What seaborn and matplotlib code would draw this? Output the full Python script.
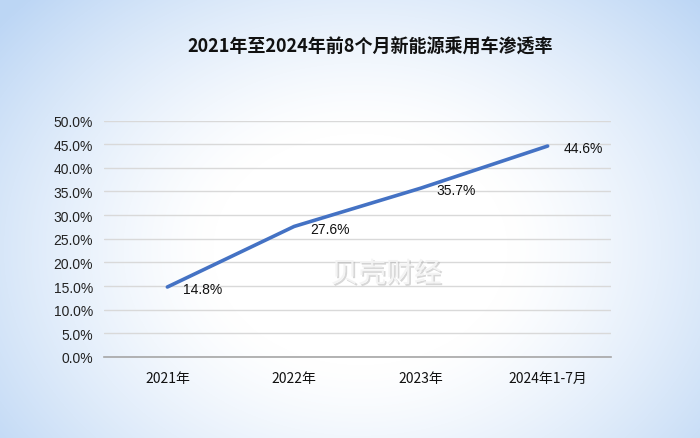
import numpy as np
import pandas as pd
import matplotlib
matplotlib.use("Agg")
import matplotlib.pyplot as plt
import matplotlib.patheffects as pe
import seaborn as sns

categories = ["2021年", "2022年", "2023年", "2024年1-7月"]
rates = [14.8, 27.6, 35.7, 44.6]
yticks = [0, 5, 10, 15, 20, 25, 30, 35, 40, 45, 50]
title = "2021年至2024年前8个月新能源乘用车渗透率"
watermark = "贝壳财经"

sns.set_theme(style="white")
plt.rcParams['font.family'] = ['Noto Sans CJK SC', 'DejaVu Sans']

fig = plt.figure(figsize=(7, 4.39), dpi=100)

# background gradient
bg = fig.add_axes([0, 0, 1, 1], zorder=-10)
H, W = 439, 700
yy, xx = np.mgrid[0:H, 0:W]
d = np.sqrt(((xx - 360) / 420.0) ** 2 + ((yy - 250) / 330.0) ** 2)
t = np.clip((d - 0.35) / 0.75, 0, 1) ** 1.3
white = np.array([1.0, 1.0, 1.0])
blue = np.array([0.74, 0.84, 0.96])
img = white[None, None, :] * (1 - t[..., None]) + blue[None, None, :] * t[..., None]
bg.imshow(img, aspect="auto", extent=[0, 1, 0, 1], origin="upper")
bg.set_axis_off()

ax = fig.add_axes([104 / 700, 1 - 358 / 439, 507 / 700, 236.5 / 439])
ax.patch.set_alpha(0)

df = pd.DataFrame({"cat": categories, "rate": rates, "x": np.arange(len(categories))})
sns.lineplot(data=df, x="x", y="rate", ax=ax, color="#4472C4", linewidth=2.6,
             clip_on=False, zorder=3)

ax.set_xlim(-0.5, len(categories) - 0.5)
ax.set_ylim(0, 50)
ax.set_yticks(yticks)
ax.set_yticklabels([f"{v:.1f}%" for v in yticks], fontsize=10,
                   family=['Liberation Sans', 'DejaVu Sans'], color="#222222")
ax.set_xticks(range(len(categories)))
ax.set_xticklabels(categories, fontsize=10, color="#111111")
ax.tick_params(axis="both", length=0)
ax.tick_params(axis="x", pad=10)
ax.tick_params(axis="y", pad=8)
ax.grid(axis="y", color="#d9d9d9", linewidth=1)
ax.set_axisbelow(True)
for s in ["top", "right", "left"]:
    ax.spines[s].set_visible(False)
ax.spines["bottom"].set_color("#a6a6a6")
ax.spines["bottom"].set_linewidth(1.2)
ax.set_xlabel("")
ax.set_ylabel("")

for i, v in enumerate(rates):
    ax.annotate(f"{v:.1f}%", (i, v), xytext=(11.5, -1.5), textcoords="offset points",
                ha="left", va="center", fontsize=10,
                family=['Liberation Sans', 'DejaVu Sans'], color="#111111")

fig.text(370 / 700, 1 - 47 / 439, title, ha="center", va="center", fontsize=13,
         fontweight="bold", color="#111111")

fig.text(386 / 700, 1 - 275 / 439, watermark, ha="center", va="center",
         fontsize=20, color="#f4f4f4", alpha=0.95,
         path_effects=[pe.withSimplePatchShadow(offset=(1.2, -1.2), shadow_rgbFace="#b0b0b0", alpha=0.5)])

fig.savefig("out.png", dpi=100)
